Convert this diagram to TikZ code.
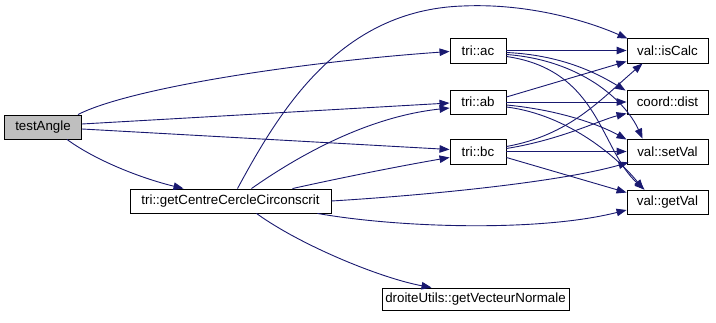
\documentclass[tikz,border=0pt]{standalone}
\usepackage{fontspec}
\setmainfont{Liberation Sans}
\usetikzlibrary{arrows.meta,calc}
\definecolor{edgeblue}{HTML}{191970}
\definecolor{rootgray}{HTML}{BFBFBF}
\begin{document}
\begin{tikzpicture}[x=1pt,y=-1pt,
  fn/.style={draw=black, fill=white, rectangle, inner sep=0pt, line width=0.9pt,
    minimum height=24pt, font=\fontsize{13.3}{16}\selectfont},
  rootfn/.style={fn, fill=rootgray},
  call/.style={draw=edgeblue, line width=0.9pt, -{Triangle[length=10pt,width=7.5pt]}}]
\useasboundingbox (0,0) rectangle (716,323);

% functions
\node[rootfn, minimum width=77pt] (testAngle) at (43,127) {testAngle};
\node[fn, minimum width=201pt] (gc) at (230.5,201) {tri::getCentreCercleCirconscrit};
\node[fn, minimum width=56pt, minimum height=25pt] (ac) at (478,50.5) {tri::ac};
\node[fn, minimum width=56pt] (ab) at (478,102) {tri::ab};
\node[fn, minimum width=56pt, minimum height=25pt] (bc) at (478,151.5) {tri::bc};
\node[fn, minimum width=187pt, minimum height=22pt] (du) at (475.5,299) {droiteUtils::getVecteurNormale};
\node[fn, minimum width=81pt, minimum height=25pt] (isCalc) at (667.5,50.5) {val::isCalc};
\node[fn, minimum width=81pt] (dist) at (667.5,102) {coord::dist};
\node[fn, minimum width=81pt, minimum height=25pt] (setVal) at (667.5,151.5) {val::setVal};
\node[fn, minimum width=81pt] (getVal) at (667.5,202) {val::getVal};

% calls made by testAngle
\draw[call] ($(testAngle.north east)+(-4,0)$) .. controls (130,88) and (300,62) .. ($(ac.west)+(0,1)$);
\draw[call] ($(testAngle.east)+(0,-3)$) -- ($(ab.west)+(0,1)$);
\draw[call] ($(testAngle.east)+(0,2)$) -- ($(bc.west)+(0,-2)$);
\draw[call] ($(testAngle.south)+(24,0)$) .. controls (95,160) and (140,178) .. ($(gc.north)+(-47,0)$);

% calls made by tri::getCentreCercleCirconscrit
\draw[call] ($(gc.north)+(7,0)$) .. controls (280,110) and (340,10) .. (463,6)
  .. controls (530,3) and (590,22) .. ($(isCalc.north west)+(1,1)$);
\draw[call] ($(gc.north)+(21,0)$) .. controls (295,158) and (365,117) .. ($(ab.west)+(0,6)$);
\draw[call] ($(gc.north)+(62,0)$) .. controls (340,178) and (400,166) .. ($(bc.west)+(0,6)$);
\draw[call] (gc.east) .. controls (430,195) and (560,182) .. ($(setVal.south west)+(2,-2)$);
\draw[call] ($(gc.south east)+(-14,0)$) .. controls (400,228) and (540,232) .. ($(getVal.west)+(0,8)$);
\draw[call] ($(gc.south)+(26,0)$) .. controls (300,245) and (380,278) .. ($(du.north)+(-44,0)$);

% calls made by tri::ac
\draw[call] (ac.east) -- (isCalc.west);
\draw[call] ($(ac.east)+(0,2)$) .. controls (560,55) and (595,72) .. ($(dist.north west)+(-1,1)$);
\draw[call] ($(ac.east)+(0,4)$) .. controls (580,60) and (625,100) .. ($(setVal.north west)+(16,0)$);
\draw[call] ($(ac.east)+(0,6)$) .. controls (600,70) and (600,150) .. ($(getVal.north west)+(18,0)$);

% calls made by tri::ab
\draw[call] ($(ab.east)+(0,-5)$) -- ($(isCalc.south west)+(0,-2)$);
\draw[call] (ab.east) -- (dist.west);
\draw[call] ($(ab.east)+(0,3)$) .. controls (560,110) and (600,125) .. ($(setVal.north west)+(0,1)$);
\draw[call] ($(ab.east)+(0,5)$) .. controls (570,115) and (620,160) .. ($(getVal.north west)+(17,0)$);

% calls made by tri::bc
\draw[call] ($(bc.east)+(0,-5)$) .. controls (570,135) and (600,100) .. ($(isCalc.south west)+(16,0)$);
\draw[call] ($(bc.east)+(0,-3)$) .. controls (560,140) and (600,120) .. ($(dist.south west)+(0,-1)$);
\draw[call] (bc.east) -- (setVal.west);
\draw[call] ($(bc.east)+(0,6)$) -- ($(getVal.north west)+(0,3)$);
\end{tikzpicture}
\end{document}
